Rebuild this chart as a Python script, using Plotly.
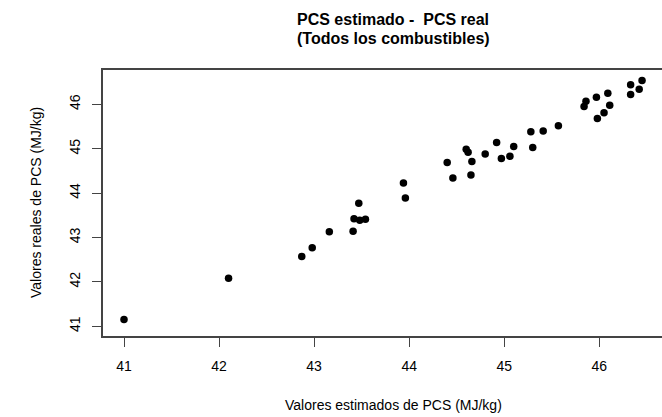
import plotly.graph_objects as go

# Estimated PCS (x) and real PCS (y), MJ/kg
pcs_estimado = [41.00, 42.10, 42.87, 42.98, 43.16, 43.41, 43.42, 43.48, 43.54, 43.47,
                43.94, 43.96, 44.40, 44.46, 44.60, 44.62, 44.66, 44.65, 44.80, 44.92,
                44.97, 45.06, 45.10, 45.28, 45.30, 45.41, 45.57, 45.84, 45.86, 45.97,
                45.98, 46.05, 46.09, 46.11, 46.33, 46.33, 46.42, 46.45]
pcs_real = [41.15, 42.08, 42.57, 42.77, 43.13, 43.14, 43.42, 43.39, 43.41, 43.77,
            44.23, 43.89, 44.69, 44.34, 44.99, 44.92, 44.71, 44.41, 44.88, 45.14,
            44.78, 44.83, 45.05, 45.38, 45.03, 45.40, 45.52, 45.95, 46.07, 46.16,
            45.68, 45.81, 46.25, 45.98, 46.44, 46.22, 46.34, 46.54]
tick_vals = [41, 42, 43, 44, 45, 46]

font_family = "Liberation Sans, Arial, sans-serif"

fig = go.Figure(go.Scatter(
    x=pcs_estimado, y=pcs_real, mode="markers",
    marker=dict(color="black", size=7.5, line=dict(width=0)),
    hoverinfo="skip", cliponaxis=False,
))

axis_common = dict(
    showgrid=False, zeroline=False, showline=True, linecolor="#444444", linewidth=1.5,
    ticks="outside", ticklen=9, tickcolor="#444444", tickwidth=1.2,
    tickfont=dict(family=font_family, size=14, color="black"),
    tickvals=tick_vals, automargin=False, layer="above traces",
    ticklabelstandoff=7,
)

fig.update_layout(
    width=662, height=417,
    margin=dict(l=103, r=0, t=70, b=81),
    paper_bgcolor="white", plot_bgcolor="white",
    showlegend=False,
    font=dict(family=font_family, color="black"),
    xaxis=dict(range=[40.779, 46.66], mirror=True, **axis_common),
    yaxis=dict(range=[40.78, 46.774], mirror=False, tickangle=-90, **axis_common),
    annotations=[
        dict(text="<b>PCS estimado -  PCS real</b>", xref="paper", yref="paper",
             x=(393 - 103) / 559, y=1 + (70 - 19) / 266, xanchor="center", yanchor="middle",
             showarrow=False, font=dict(family=font_family, size=16, color="black")),
        dict(text="<b>(Todos los combustibles)</b>", xref="paper", yref="paper",
             x=(393 - 103) / 559, y=1 + (70 - 38) / 266, xanchor="center", yanchor="middle",
             showarrow=False, font=dict(family=font_family, size=16, color="black")),
        dict(text="Valores estimados de PCS (MJ/kg)", xref="paper", yref="paper",
             x=(393 - 103) / 559, y=-(405 - 336) / 266, xanchor="center", yanchor="middle",
             showarrow=False, font=dict(family=font_family, size=14, color="black")),
        dict(text="Valores reales de PCS (MJ/kg)", xref="paper", yref="paper",
             x=-(103 - 36) / 559, y=(336 - 203) / 266, xanchor="center", yanchor="middle",
             textangle=-90, showarrow=False,
             font=dict(family=font_family, size=14, color="black")),
    ],
)

fig.write_html("out.html", config={"displayModeBar": False},
               post_script="document.body.style.margin='0';document.body.style.overflow='hidden';")
